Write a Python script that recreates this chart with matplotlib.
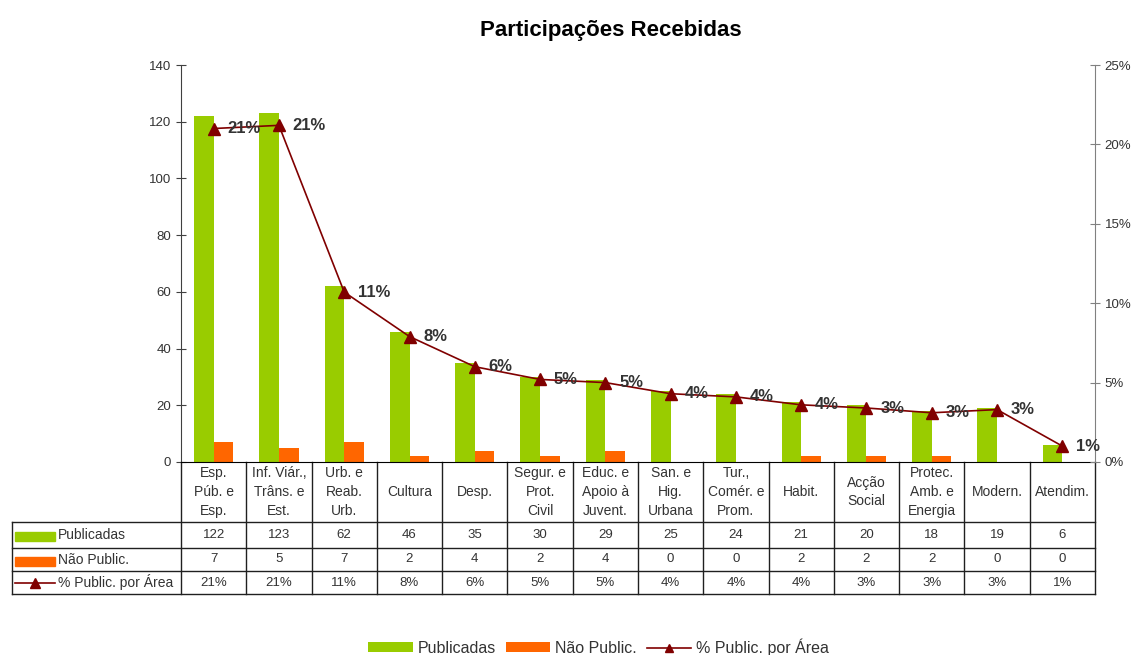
import numpy as np
import matplotlib
matplotlib.use("Agg")
import matplotlib.pyplot as plt
import matplotlib.transforms as mtransforms
from matplotlib.patches import Rectangle
from matplotlib.lines import Line2D

plt.rcParams['font.family'] = ['Liberation Sans', 'DejaVu Sans']

# data
areas = ["Esp.\nPúb. e\nEsp.", "Inf. Viár.,\nTrâns. e\nEst.", "Urb. e\nReab.\nUrb.",
         "Cultura", "Desp.", "Segur. e\nProt.\nCivil", "Educ. e\nApoio à\nJuvent.",
         "San. e\nHig.\nUrbana", "Tur.,\nComér. e\nProm.", "Habit.", "Acção\nSocial",
         "Protec.\nAmb. e\nEnergia", "Modern.", "Atendim."]
publicadas = [122, 123, 62, 46, 35, 30, 29, 25, 24, 21, 20, 18, 19, 6]
nao_public = [7, 5, 7, 2, 4, 2, 4, 0, 0, 2, 2, 2, 0, 0]
pct_area = [21.0, 21.2, 10.7, 7.9, 6.0, 5.2, 5.0, 4.3, 4.1, 3.6, 3.4, 3.1, 3.3, 1.0]
pct_labels = ["21%", "21%", "11%", "8%", "6%", "5%", "5%", "4%", "4%", "4%", "3%", "3%", "3%", "1%"]

green = '#99CC00'
orange = '#FF6600'
dred = '#800000'
txt = '#333333'

W, H = 1136, 655
fig = plt.figure(figsize=(W / 100, H / 100), dpi=100)
ax_l, ax_r, ax_t, ax_b = 181, 1095, 65, 462
ax = fig.add_axes([ax_l / W, 1 - ax_b / H, (ax_r - ax_l) / W, (ax_b - ax_t) / H])

x = np.arange(len(areas))
bw = 0.3
ax.bar(x - 0.15, publicadas, bw, color=green, label='Publicadas', zorder=2)
ax.bar(x + 0.15, nao_public, bw, color=orange, label='Não Public.', zorder=2)
ax.set_xlim(-0.5, len(areas) - 0.5)
ax.set_ylim(0, 140)
ax.set_yticks(range(0, 141, 20))
ax.set_xticks([])
ax.tick_params(axis='y', direction='inout', length=7, labelsize=9.5, labelcolor=txt, colors='#404040')
for s in ['top', 'right']:
    ax.spines[s].set_visible(False)
ax.spines['left'].set_color('#404040')
ax.spines['bottom'].set_color('black')

ax2 = ax.twinx()
ax2.plot(x, pct_area, color=dred, lw=1.2, marker='^', ms=8, mfc=dred, mec=dred,
         label='% Public. por Área', zorder=3)
ax2.set_ylim(0, 25)
ax2.set_yticks(range(0, 26, 5))
ax2.set_yticklabels([f"{v}%" for v in range(0, 26, 5)])
ax2.tick_params(axis='y', direction='inout', length=7, labelsize=9.5, labelcolor=txt, colors='#808080')
for s in ['top', 'left', 'bottom']:
    ax2.spines[s].set_visible(False)
ax2.spines['right'].set_color('#808080')
for xi, yi, lab in zip(x, pct_area, pct_labels):
    ax2.annotate(lab, (xi, yi), xytext=(10, 0), textcoords='offset points',
                 ha='left', va='center', fontsize=12, fontweight='bold', color=txt)

fig.text(0.538, 0.953, "Participações Recebidas", ha='center', va='center',
         fontsize=16, fontweight='bold', color='black')

# data table under the axis
trans = mtransforms.blended_transform_factory(ax.transData, ax.transAxes)
unit = (ax_r - ax_l) / len(areas)
def fy(py):
    return (ax_b - py) / (ax_b - ax_t)
def fx(px):
    return -0.5 + (px - ax_l) / unit

rows_y = [fy(522), fy(548), fy(571), fy(594)]
x_left = fx(12)
n = len(areas)
lc = '#202020'
for yy in rows_y:
    ax.add_line(Line2D([x_left, n - 0.5], [yy, yy], transform=trans, color=lc, lw=1, clip_on=False))
for i in range(n + 1):
    ax.add_line(Line2D([i - 0.5, i - 0.5], [0, rows_y[-1]], transform=trans, color=lc, lw=1, clip_on=False))
ax.add_line(Line2D([x_left, x_left], [rows_y[0], rows_y[-1]], transform=trans, color=lc, lw=1, clip_on=False))

for i, a in enumerate(areas):
    ax.text(i, fy(492), a, transform=trans, ha='center', va='center', fontsize=10,
            color=txt, linespacing=1.45, clip_on=False)

row_vals = [[str(v) for v in publicadas], [str(v) for v in nao_public], pct_labels]
row_names = ['Publicadas', 'Não Public.', '% Public. por Área']
for r in range(3):
    yc = (rows_y[r] + rows_y[r + 1]) / 2
    for i, v in enumerate(row_vals[r]):
        ax.text(i, yc, v, transform=trans, ha='center', va='center', fontsize=9.5,
                color=txt, clip_on=False)
    ax.text(fx(58), yc, row_names[r], transform=trans, ha='left', va='center',
            fontsize=10, color=txt, clip_on=False)

sw0, sw1 = fx(15), fx(55)
sh = 9 / (ax_b - ax_t)
for r, c in enumerate([green, orange]):
    yc = (rows_y[r] + rows_y[r + 1]) / 2
    ax.add_patch(Rectangle((sw0, yc - sh / 2 - 0.004), sw1 - sw0, sh, transform=trans,
                           color=c, clip_on=False))
yc = (rows_y[2] + rows_y[3]) / 2
ax.add_line(Line2D([sw0, sw1], [yc, yc], transform=trans, color=dred, lw=1.2, clip_on=False))
ax.add_line(Line2D([(sw0 + sw1) / 2], [yc], transform=trans, color=dred, marker='^', ms=7,
                   clip_on=False))

h1, l1 = ax.get_legend_handles_labels()
h2, l2 = ax2.get_legend_handles_labels()
fig.legend(h1 + h2, l1 + l2, loc='center', bbox_to_anchor=(0.527, 0.012), ncol=3,
           frameon=False, fontsize=11.5, handlelength=2.8, handleheight=0.6,
           handletextpad=0.3, columnspacing=0.6, labelcolor=txt, markerscale=0.75)

fig.savefig('out.png', dpi=100)
